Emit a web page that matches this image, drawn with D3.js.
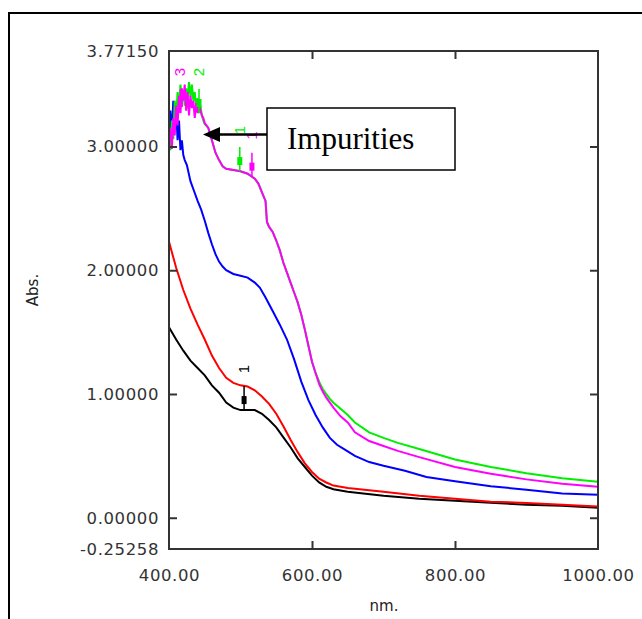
<!DOCTYPE html>
<html>
<head>
<meta charset="utf-8">
<script src="https://cdn.jsdelivr.net/npm/d3@7"></script>
<style>
  html, body { margin: 0; padding: 0; background: #fff; }
  svg { display: block; }
</style>
</head>
<body>
<svg id="chart" width="642" height="619"></svg>
<script>
// ---------------- DATA ----------------
const xTickLabels = [400, 600, 800, 1000];
const xInnerTicks = [600, 800];
const yTickLabels = [-0.25258, 0, 1, 2, 3, 3.7715];
const yInnerTicks = [0, 1, 2, 3];
const xDomain = [400, 1000];
const yDomain = [-0.25258, 3.7715];

// sample 1 (black)
const blackNm  = [400,410,420,430,440,450,460,470,480,490,500,510,520,530,540,550,560,570,580,590,600,610,620,630,650,700,750,800,850,900,950,1000];
const blackAbs = [1.54,1.44,1.35,1.27,1.21,1.15,1.07,1.01,0.93,0.89,0.87,0.87,0.87,0.84,0.79,0.73,0.65,0.57,0.48,0.41,0.34,0.285,0.25,0.23,0.21,0.177,0.153,0.137,0.121,0.105,0.097,0.08];

// red
const redNm  = [400,410,420,430,440,450,460,470,480,490,500,510,520,530,540,550,560,570,580,590,600,610,620,630,650,700,750,800,850,900,950,1000];
const redAbs = [2.23,2.02,1.84,1.69,1.56,1.44,1.31,1.21,1.13,1.09,1.07,1.06,1.03,0.98,0.92,0.84,0.74,0.63,0.53,0.44,0.37,0.315,0.285,0.26,0.24,0.21,0.177,0.153,0.13,0.12,0.105,0.09];

// blue
const blueNm  = [400,402,404,406,408,410,412,414,416,418,420,422,425,430,435,440,445,450,455,460,465,470,475,480,490,500,510,520,527,535,545,555,565,575,585,595,605,615,625,635,646,660,680,700,730,760,800,850,900,950,1000];
const blueAbs = [3.01,3.29,3.09,3.37,3.15,3.31,3.05,3.21,2.97,3.05,2.93,2.89,2.85,2.72,2.64,2.56,2.49,2.40,2.30,2.21,2.13,2.07,2.03,2.00,1.97,1.955,1.94,1.90,1.86,1.78,1.67,1.56,1.44,1.28,1.10,0.95,0.83,0.73,0.645,0.59,0.55,0.50,0.45,0.42,0.38,0.33,0.295,0.255,0.226,0.195,0.185];

// magenta (3)
const magentaNm  = [400,402,404,406,408,410,412,414,416,418,420,422,424,426,428,430,432,434,436,438,440,442,444,446,448,450,455,460,465,470,475,480,490,500,510,520,525,530,535,537,540,545,550,555,560,565,570,575,580,585,590,595,600,605,610,615,620,625,630,640,650,660,680,700,720,750,800,850,900,950,1000];
const magentaAbs = [3.05,3.15,2.98,3.23,3.09,3.33,3.17,3.41,3.27,3.47,3.37,3.50,3.29,3.44,3.25,3.41,3.31,3.37,3.23,3.35,3.27,3.33,3.29,3.25,3.23,3.19,3.15,3.05,2.95,2.89,2.84,2.82,2.81,2.80,2.78,2.74,2.70,2.63,2.56,2.39,2.35,2.31,2.24,2.16,2.06,1.98,1.90,1.82,1.74,1.64,1.52,1.39,1.26,1.17,1.08,1.02,0.97,0.93,0.89,0.82,0.77,0.69,0.62,0.58,0.54,0.49,0.41,0.355,0.31,0.275,0.25];

// green (2)
const greenNm  = [400,402,404,406,408,410,412,414,416,418,420,422,424,426,428,430,432,434,436,438,440,442,444,446,448,450,455,460,465,470,475,480,490,500,510,520,525,530,535,537,540,545,550,555,560,565,570,575,580,585,590,595,600,605,610,615,620,625,630,640,650,660,680,700,720,750,800,850,900,950,1000];
const greenAbs = [3.13,2.97,3.21,3.06,3.37,3.23,3.44,3.31,3.50,3.37,3.45,3.33,3.47,3.39,3.52,3.40,3.50,3.37,3.44,3.31,3.39,3.27,3.33,3.25,3.21,3.18,3.15,3.05,2.95,2.89,2.84,2.82,2.81,2.80,2.78,2.74,2.70,2.63,2.56,2.39,2.35,2.31,2.24,2.16,2.06,1.98,1.90,1.82,1.74,1.64,1.52,1.39,1.26,1.17,1.10,1.04,1.00,0.96,0.93,0.88,0.83,0.77,0.69,0.645,0.605,0.556,0.47,0.41,0.36,0.32,0.29];

const seriesNames  = ["black", "red", "blue", "magenta", "green"];
const seriesColors = ["#000000", "#ff0000", "#0000ff", "#ff00ff", "#00ee00"];

// peak markers
const markerSeries = ["black", "green", "magenta", "magenta", "green"];
const markerNm     = [505, 499, 516, 416, 442];
const markerLabels = ["1", "1", "1", "3", "2"];

const annotationText = "Impurities";
const xAxisTitle = "nm.";
const yAxisTitle = "Abs.";

// ---------------- CHART ----------------
const svg = d3.select("#chart");
const W = 642, H = 619;
const plot = { left: 169, right: 598, top: 51, bottom: 549 };

svg.append("rect").attr("width", W).attr("height", H).attr("fill", "#fff");

// outer frame (top + left edges)
svg.append("path")
  .attr("d", `M9,${H} L9,13 L${W},13`)
  .attr("fill", "none").attr("stroke", "#000").attr("stroke-width", 2);

const x = d3.scaleLinear().domain(xDomain).range([plot.left, plot.right]);
const y = d3.scaleLinear().domain(yDomain).range([plot.bottom, plot.top]);

const seriesData = {
  black:   d3.zip(blackNm, blackAbs),
  red:     d3.zip(redNm, redAbs),
  blue:    d3.zip(blueNm, blueAbs),
  magenta: d3.zip(magentaNm, magentaAbs),
  green:   d3.zip(greenNm, greenAbs)
};

svg.append("defs").append("clipPath").attr("id", "clip")
  .append("rect").attr("x", plot.left).attr("y", plot.top)
  .attr("width", plot.right - plot.left).attr("height", plot.bottom - plot.top);

const line = d3.line().x(d => x(d[0])).y(d => y(d[1])).curve(d3.curveLinear);

const g = svg.append("g").attr("clip-path", "url(#clip)");
const drawOrder = ["black", "red", "blue", "green", "magenta"];
drawOrder.forEach(name => {
  const c = seriesColors[seriesNames.indexOf(name)];
  g.append("path").datum(seriesData[name])
    .attr("d", line).attr("fill", "none")
    .attr("stroke", c).attr("stroke-width", 2)
    .attr("stroke-linejoin", "miter");
});

// markers
markerNm.forEach((nm, i) => {
  const name = markerSeries[i];
  const c = seriesColors[seriesNames.indexOf(name)];
  const data = seriesData[name];
  const val = d3.scaleLinear().domain(data.map(d => d[0])).range(data.map(d => d[1]))(nm);
  const px = x(nm), py = y(val);
  const mg = g.append("g");
  mg.append("line").attr("x1", px).attr("x2", px).attr("y1", py).attr("y2", py - 24)
    .attr("stroke", c).attr("stroke-width", 1.5);
  mg.append("rect").attr("x", px - 2.5).attr("y", py - 14).attr("width", 5).attr("height", 8).attr("fill", c);
  mg.append("text").attr("transform", `translate(${px + 5},${py - 41}) rotate(-90)`)
    .attr("text-anchor", "middle")
    .attr("font-family", "Liberation Sans, Arial, sans-serif").attr("font-size", 15)
    .attr("fill", c).text(markerLabels[i]);
});

// plot frame
svg.append("rect")
  .attr("x", plot.left).attr("y", plot.top)
  .attr("width", plot.right - plot.left).attr("height", plot.bottom - plot.top)
  .attr("fill", "none").attr("stroke", "#333").attr("stroke-width", 2);

const labelFont = "DejaVu Sans, Verdana, sans-serif";
const fmtY = v => d3.format(".5f")(v).replace("\u2212", "-");
const fmtX = v => d3.format(".2f")(v);

// y axis labels
const yAxisG = svg.append("g").attr("transform", `translate(${plot.left},0)`)
  .call(d3.axisLeft(y).tickValues(yTickLabels).tickSize(0).tickPadding(10).tickFormat(fmtY));
yAxisG.select(".domain").remove();
yAxisG.selectAll("text").attr("font-family", labelFont).attr("font-size", 16.5)
  .attr("fill", "#333").attr("letter-spacing", "0.6px");

// inner y ticks (left & right)
const yTickL = svg.append("g").attr("transform", `translate(${plot.left},0)`)
  .call(d3.axisRight(y).tickValues(yInnerTicks).tickSize(8).tickFormat(""));
yTickL.select(".domain").remove();
const yTickR = svg.append("g").attr("transform", `translate(${plot.right},0)`)
  .call(d3.axisLeft(y).tickValues(yInnerTicks).tickSize(8).tickFormat(""));
yTickR.select(".domain").remove();

// x axis labels
const xAxisG = svg.append("g").attr("transform", `translate(0,${plot.bottom})`)
  .call(d3.axisBottom(x).tickValues(xTickLabels).tickSize(0).tickPadding(20).tickFormat(fmtX));
xAxisG.select(".domain").remove();
xAxisG.selectAll("text").attr("font-family", labelFont).attr("font-size", 16.5)
  .attr("fill", "#333").attr("letter-spacing", "0.6px");

// inner x ticks (bottom & top)
const xTickB = svg.append("g").attr("transform", `translate(0,${plot.bottom})`)
  .call(d3.axisTop(x).tickValues(xInnerTicks).tickSize(8).tickFormat(""));
xTickB.select(".domain").remove();
const xTickT = svg.append("g").attr("transform", `translate(0,${plot.top})`)
  .call(d3.axisBottom(x).tickValues(xInnerTicks).tickSize(8).tickFormat(""));
xTickT.select(".domain").remove();

svg.selectAll(".tick line").attr("stroke", "#333").attr("stroke-width", 2);

// axis titles
svg.append("text").attr("x", 384).attr("y", 611).attr("text-anchor", "middle")
  .attr("font-family", labelFont).attr("font-size", 15).attr("fill", "#222").text(xAxisTitle);
svg.append("text").attr("transform", "translate(38,290) rotate(-90)").attr("text-anchor", "middle")
  .attr("font-family", labelFont).attr("font-size", 15).attr("fill", "#222").text(yAxisTitle);

// annotation box + arrow
svg.append("rect").attr("x", 267).attr("y", 108).attr("width", 188).attr("height", 62)
  .attr("fill", "#fff").attr("stroke", "#000").attr("stroke-width", 1.5);
svg.append("text").attr("x", 287).attr("y", 149)
  .attr("font-family", "Liberation Serif, Times New Roman, serif").attr("font-size", 31)
  .attr("fill", "#000").text(annotationText);
svg.append("line").attr("x1", 267).attr("y1", 134.5).attr("x2", 215).attr("y2", 134.5)
  .attr("stroke", "#000").attr("stroke-width", 2.5);
svg.append("path").attr("d", "M203,134.5 L220,127 L220,142 Z").attr("fill", "#000");
</script>
</body>
</html>
